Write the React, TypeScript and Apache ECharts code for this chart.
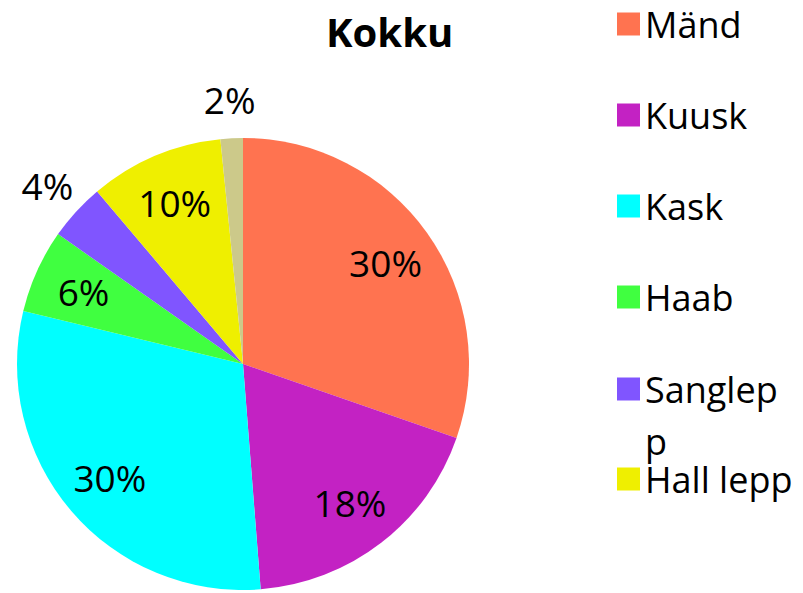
import React, { useEffect, useRef } from "react";
import * as echarts from "echarts";

const categories = ["Mänd", "Kuusk", "Kask", "Haab", "Sanglepp", "Hall lepp", "Muu"];
const values = [30.4, 18.5, 30.1, 6.0, 4.1, 9.6, 1.6];
const colors = ["#FF7350", "#C322C3", "#00FFFF", "#40FF40", "#8055FF", "#EFEF00", "#CCC98A"];
const legendNamesA = ["Mänd", "Kuusk", "Kask", "Haab"];
const legendNamesB = ["Sanglepp"];
const legendNamesC = ["Hall lepp"];
const outsideLabelNames = ["Sanglepp", "Muu"];

const FONT = "'Open Sans', 'Noto Sans', sans-serif";

export default function App() {
  const ref = useRef<HTMLDivElement>(null);
  useEffect(() => {
    document.body.style.margin = "0";
    if (!ref.current) return;
    const chart = echarts.init(ref.current, null, { renderer: "svg" });
    const pct = (p: any) => Math.round(p.percent) + "%";
    const labelStyle = { color: "#000", fontFamily: FONT, fontSize: 37 };
    const legendBase = {
      orient: "vertical",
      left: 612,
      itemWidth: 23,
      itemHeight: 23,
      itemGap: 39,
      itemTextGap: 13,
      icon: "rect",
      selectedMode: false,
      formatter: (name: string) => (name === "Sanglepp" ? "\nSanglep\np" : name),
      textStyle: {
        fontFamily: FONT,
        fontSize: 36,
        color: "#000",
        lineHeight: 52,
      },
    };
    chart.setOption({
      animation: false,
      backgroundColor: "#fff",
      title: {
        text: "Kokku",
        left: 326,
        top: 11,
        padding: 0,
        textStyle: { fontFamily: FONT, fontSize: 40, fontWeight: "bold", color: "#000" },
      },
      legend: [
        { ...legendBase, top: -7, data: legendNamesA },
        { ...legendBase, top: 306, data: legendNamesB },
        { ...legendBase, top: 448, data: legendNamesC },
      ],
      series: [
        {
          type: "pie",
          center: [243, 364],
          radius: [0, 226],
          startAngle: 90,
          clockwise: true,
          silent: true,
          label: { show: false },
          labelLine: { show: false },
          data: categories.map((n, i) => ({
            name: n,
            value: values[i],
            itemStyle: { color: colors[i] },
          })),
        },
        {
          type: "pie",
          center: [243, 364],
          radius: [118, 226],
          startAngle: 90,
          clockwise: true,
          silent: true,
          itemStyle: { color: "rgba(0,0,0,0)" },
          label: { show: true, position: "inside", formatter: pct, ...labelStyle },
          labelLine: { show: false },
          data: categories.map((n, i) => ({
            name: n,
            value: values[i],
            label: { show: !outsideLabelNames.includes(n) },
          })),
        },
        {
          type: "pie",
          center: [243, 364],
          radius: [226, 298],
          startAngle: 90,
          clockwise: true,
          silent: true,
          itemStyle: { color: "rgba(0,0,0,0)" },
          label: { show: true, position: "inside", formatter: pct, ...labelStyle },
          labelLine: { show: false },
          data: categories.map((n, i) => ({
            name: n,
            value: values[i],
            label: { show: outsideLabelNames.includes(n) },
          })),
        },
      ],
    });
    return () => chart.dispose();
  }, []);
  return <div ref={ref} style={{ width: 803, height: 593 }} />;
}
